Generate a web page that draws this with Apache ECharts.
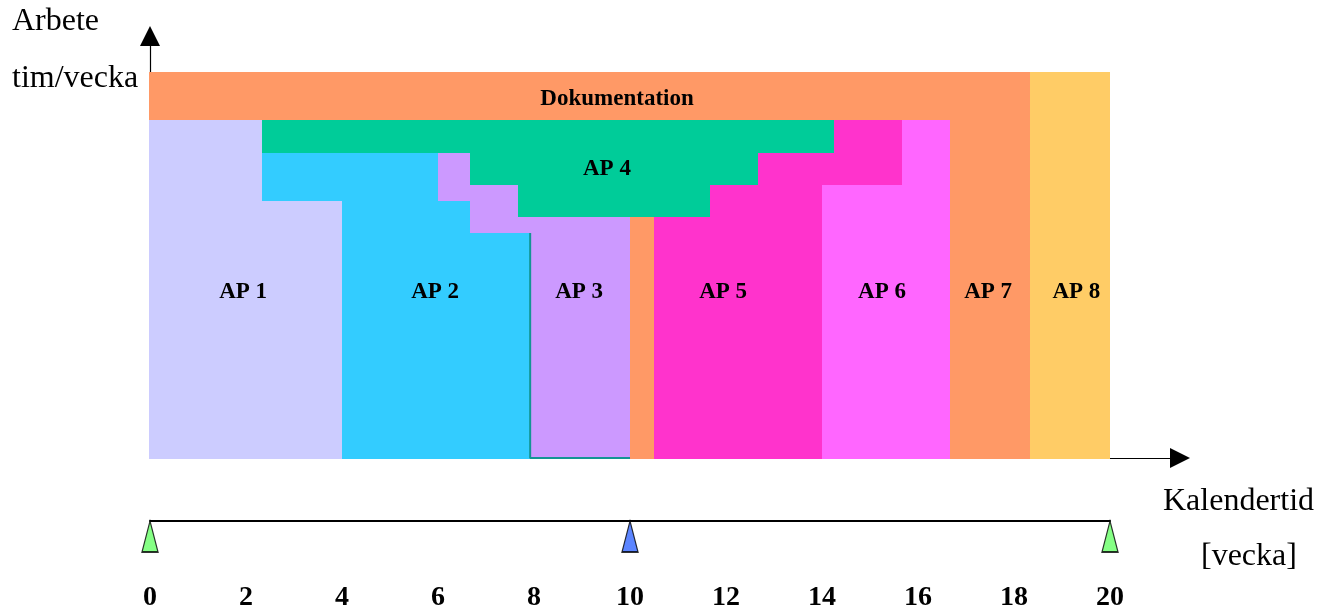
<!DOCTYPE html>
<html>
<head>
<meta charset="utf-8">
<script src="https://cdn.jsdelivr.net/npm/echarts@6/dist/echarts.min.js"></script>
<style>
  html, body { margin: 0; padding: 0; background: #fff; }
  #chart { width: 1331px; height: 613px; }
</style>
</head>
<body>
<div id="chart"></div>
<script>
// ---- Data (weeks on x, hours/week on y) ----
// Each block: [startWeek, endWeek, fromHours, toHours]
const dokumentationBlocks = [[0, 18.33, 42, 48], [10, 10.5, 0, 30]];
const ap1Blocks = [[0, 2.33, 0, 42], [2.33, 4, 0, 32]];
const ap2Blocks = [[2.33, 6, 32, 38], [4, 6.67, 28, 32], [4, 7.92, 0, 28]];
const ap3Blocks = [[6, 6.67, 32, 38], [6.67, 7.67, 30, 34], [6.67, 10, 28, 30], [7.92, 10, 0, 28]];
const ap4Blocks = [[2.33, 14.25, 38, 42], [6.67, 12.67, 34, 38], [7.67, 11.67, 30, 34]];
const ap5Blocks = [[14.25, 15.67, 38, 42], [12.67, 15.67, 34, 38], [11.67, 14, 30, 34], [10.5, 14, 0, 30]];
const ap6Blocks = [[15.67, 16.67, 34, 42], [14, 16.67, 0, 34]];
const ap7Blocks = [[16.67, 18.33, 0, 42]];
const ap8Blocks = [[18.33, 20, 0, 48]];
const ap3Edge = [[7.92, 28], [7.92, 0], [10, 0]];

const labelNames = ['Dokumentation', 'AP 1', 'AP 2', 'AP 3', 'AP 4', 'AP 5', 'AP 6', 'AP 7', 'AP 8'];
const labelWeeks = [9.73, 1.94, 5.94, 8.94, 9.52, 11.94, 15.25, 17.46, 19.3];
const labelHours = [44.6, 20.6, 20.6, 20.6, 35.9, 20.6, 20.6, 20.6, 20.6];

const milestoneWeeks = [0, 10, 20];
const milestoneKinds = ['start', 'mid', 'end'];
const weekTicks = ['0', '2', '4', '6', '8', '10', '12', '14', '16', '18', '20'];

// ---- Styles ----
const colors = {
  dok: '#FF9966', ap1: '#CCCCFF', ap2: '#33CCFF', ap3: '#CC99FF', ap4: '#00CC99',
  ap5: '#FF33CC', ap6: '#FF66FF', ap7: '#FF9966', ap8: '#FFCC66'
};
const milestoneColors = { start: '#66FF66', mid: '#3366FF', end: '#66FF66' };
const serif = "'Liberation Serif', 'Times New Roman', serif";

function renderBlock(params, api) {
  const a = api.coord([api.value(0), api.value(3)]);
  const b = api.coord([api.value(1), api.value(2)]);
  // blocks touching the axes are widened by 1px so they hide the axis line under them
  const x = Math.round(a[0]) - (api.value(0) === 0 ? 1 : 0);
  const y = Math.round(a[1]);
  const bottom = Math.round(b[1]) + (api.value(2) === 0 ? 1 : 0);
  return {
    type: 'rect',
    shape: { x: x, y: y, width: Math.round(b[0]) - x, height: bottom - y },
    style: { fill: api.visual('color') }
  };
}
function blockSeries(name, data, color) {
  return {
    name: name, type: 'custom', xAxisIndex: 0, yAxisIndex: 0,
    renderItem: renderBlock, data: data, itemStyle: { color: color },
    encode: { x: [0, 1], y: [2, 3] }, z: 2, silent: true
  };
}

const labelData = labelNames.map((n, i) => [labelWeeks[i], labelHours[i], n]);

const chart = echarts.init(document.getElementById('chart'), null, { renderer: 'canvas' });
chart.setOption({
  animation: false,
  backgroundColor: '#ffffff',
  grid: [
    { left: 150, top: 36, width: 1030, height: 422 },
    { left: 150, top: 521, width: 960, height: 50 }
  ],
  xAxis: [
    {
      gridIndex: 0, type: 'value', min: 0, max: 21.458,
      axisLine: { show: true, onZero: false, symbol: ['none', 'triangle'], symbolSize: [20, 20],
                  lineStyle: { color: '#000', width: 1.2 } },
      axisTick: { show: false }, axisLabel: { show: false }, splitLine: { show: false }
    },
    {
      gridIndex: 1, type: 'value', min: 0, max: 20, position: 'top',
      axisLine: { show: true, onZero: false, lineStyle: { color: '#000', width: 2 } },
      axisTick: { show: false }, axisLabel: { show: false }, splitLine: { show: false }
    },
    {
      gridIndex: 1, type: 'value', min: 0, max: 20, interval: 2, position: 'bottom',
      axisLine: { show: false }, axisTick: { show: false }, splitLine: { show: false },
      axisLabel: {
        show: true, margin: 13, color: '#000', fontFamily: serif, fontWeight: 'bold', fontSize: 28,
        formatter: (v) => weekTicks[Math.round(v / 2)]
      }
    }
  ],
  yAxis: [
    {
      gridIndex: 0, type: 'value', min: 0, max: 52.5,
      axisLine: { show: true, onZero: false, symbol: ['none', 'triangle'], symbolSize: [20, 20],
                  lineStyle: { color: '#000', width: 1.2 } },
      axisTick: { show: false }, axisLabel: { show: false }, splitLine: { show: false }
    },
    {
      gridIndex: 1, type: 'value', min: 0, max: 1, show: false
    }
  ],
  graphic: [
    { type: 'text', left: 12, top: 6, style: { text: 'Arbete', font: '32px ' + serif, fill: '#000' } },
    { type: 'text', left: 12, top: 63, style: { text: 'tim/vecka', font: '32px ' + serif, fill: '#000' } },
    { type: 'text', left: 1163, top: 486, style: { text: 'Kalendertid', font: '32px ' + serif, fill: '#000' } },
    { type: 'text', left: 1201, top: 541, style: { text: '[vecka]', font: '32px ' + serif, fill: '#000' } }
  ],
  series: [
    blockSeries('Dokumentation', dokumentationBlocks, colors.dok),
    blockSeries('AP 1', ap1Blocks, colors.ap1),
    blockSeries('AP 2', ap2Blocks, colors.ap2),
    blockSeries('AP 3', ap3Blocks, colors.ap3),
    blockSeries('AP 4', ap4Blocks, colors.ap4),
    blockSeries('AP 5', ap5Blocks, colors.ap5),
    blockSeries('AP 6', ap6Blocks, colors.ap6),
    blockSeries('AP 7', ap7Blocks, colors.ap7),
    blockSeries('AP 8', ap8Blocks, colors.ap8),
    {
      type: 'line', xAxisIndex: 0, yAxisIndex: 0, data: ap3Edge, symbol: 'none',
      lineStyle: { color: '#149494', width: 2 }, z: 3, silent: true
    },
    {
      type: 'custom', xAxisIndex: 0, yAxisIndex: 0, data: labelData, z: 5, silent: true,
      encode: { x: 0, y: 1 },
      renderItem: function (params, api) {
        const p = api.coord([api.value(0), api.value(1)]);
        return {
          type: 'text', x: p[0], y: p[1],
          style: {
            text: labelData[params.dataIndex][2], fill: '#000',
            font: 'bold 23px ' + serif, align: 'center', verticalAlign: 'middle'
          }
        };
      }
    },
    {
      type: 'scatter', xAxisIndex: 1, yAxisIndex: 1, z: 5, silent: true,
      symbol: 'triangle', symbolSize: [16, 31], symbolOffset: [0, '50%'],
      data: milestoneWeeks.map((w, i) => ({
        value: [w, 1],
        itemStyle: { color: milestoneColors[milestoneKinds[i]], borderColor: '#000', borderWidth: 1.5 }
      }))
    }
  ]
});
</script>
</body>
</html>
